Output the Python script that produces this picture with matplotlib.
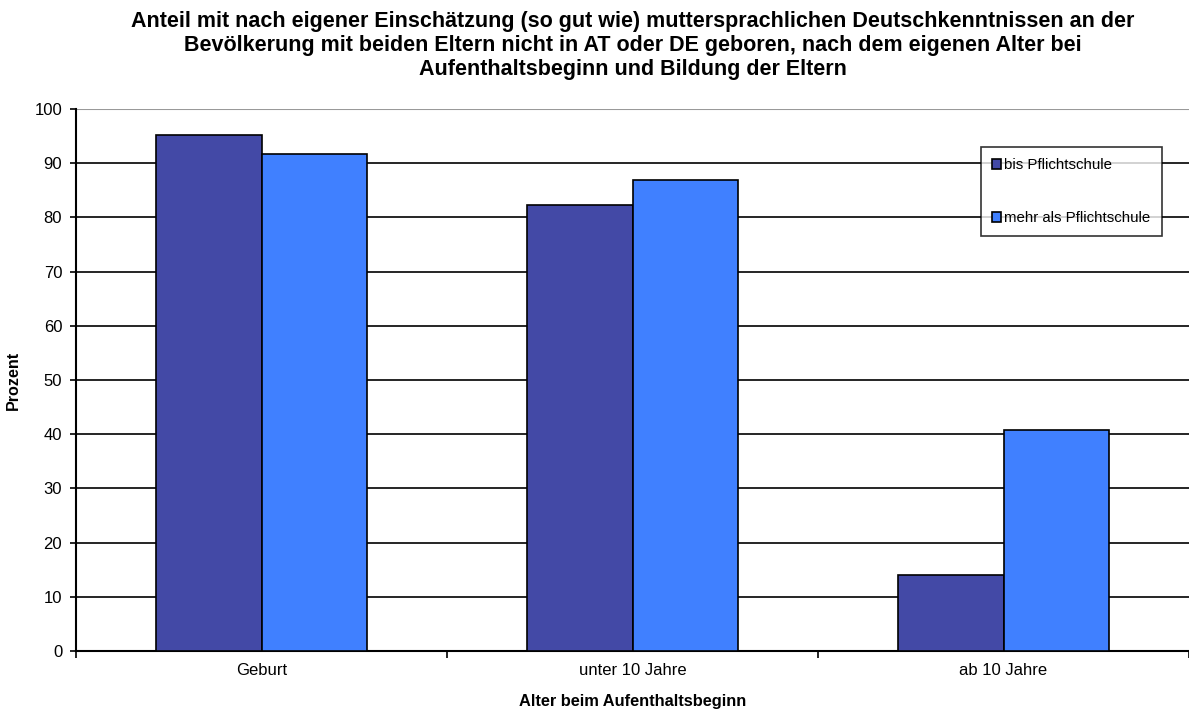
import numpy as np
import matplotlib.pyplot as plt

plt.rcParams["font.family"] = ["Liberation Sans", "DejaVu Sans"]

# ------------------------------------------------------------
# Data
# ------------------------------------------------------------
CATEGORIES = ["Geburt", "unter 10 Jahre", "ab 10 Jahre"]
SERIES_NAMES = ["bis Pflichtschule", "mehr als Pflichtschule"]
BIS_PFLICHT = [95.2, 82.3, 14.0]
MEHR_PFLICHT = [91.7, 86.9, 40.8]
Y_TICKS = list(range(0, 101, 10))

TITLE = ("Anteil mit nach eigener Einschätzung (so gut wie) muttersprachlichen Deutschkenntnissen an der\n"
         "Bevölkerung mit beiden Eltern nicht in AT oder DE geboren, nach dem eigenen Alter bei\n"
         "Aufenthaltsbeginn und Bildung der Eltern")

COLORS = ["#4349A6", "#4080FF"]


def main():
    fig = plt.figure(figsize=(11.89, 7.11), dpi=100)
    ax = fig.add_axes([0.064, 0.0844, 0.936, 0.7623])

    x = np.arange(len(CATEGORIES))
    width = 0.285
    ax.bar(x - width / 2, BIS_PFLICHT, width, color=COLORS[0], edgecolor="black",
           linewidth=1.2, label=SERIES_NAMES[0], zorder=3)
    ax.bar(x + width / 2, MEHR_PFLICHT, width, color=COLORS[1], edgecolor="black",
           linewidth=1.2, label=SERIES_NAMES[1], zorder=3)

    ax.set_xlim(-0.5, len(CATEGORIES) - 0.5)
    ax.set_ylim(0, 100)
    ax.set_yticks(Y_TICKS)
    ax.tick_params(axis="y", labelsize=12, length=4, width=1.2, direction="out", pad=6)

    # category labels centred, ticks on the boundaries
    ax.set_xticks(x)
    ax.set_xticklabels(CATEGORIES, fontsize=12)
    ax.tick_params(axis="x", length=0, pad=9)
    ax.set_xticks(np.arange(len(CATEGORIES) + 1) - 0.5, minor=True)
    ax.tick_params(axis="x", which="minor", length=5, width=1.2, direction="out")

    for y in Y_TICKS[1:-1]:
        ax.axhline(y, color="black", linewidth=1.2, zorder=1)
    ax.axhline(100, color="#999999", linewidth=1.5, zorder=1)

    for side in ["top", "right"]:
        ax.spines[side].set_visible(False)
    ax.spines["left"].set_linewidth(1.5)
    ax.spines["bottom"].set_linewidth(1.5)

    ax.set_xlabel("Alter beim Aufenthaltsbeginn", fontsize=11.8, fontweight="bold", labelpad=11)
    ax.set_ylabel("Prozent", fontsize=11.6, fontweight="bold", labelpad=10)

    fig.suptitle(TITLE, fontsize=15.5, fontweight="bold", x=0.532, y=0.985, va="top",
                 linespacing=1.2)

    leg = ax.legend(loc="upper left", bbox_to_anchor=(0.813, 0.93), fontsize=10.8,
                    frameon=True, fancybox=False, edgecolor="black", handlelength=0.6,
                    handleheight=0.6, handletextpad=0.2, labelspacing=2.6,
                    borderpad=0.75, borderaxespad=0)
    leg.get_frame().set_linewidth(1.2)
    leg.set_zorder(5)

    fig.savefig("out.png", dpi=100)
    plt.close(fig)


if __name__ == "__main__":
    main()
